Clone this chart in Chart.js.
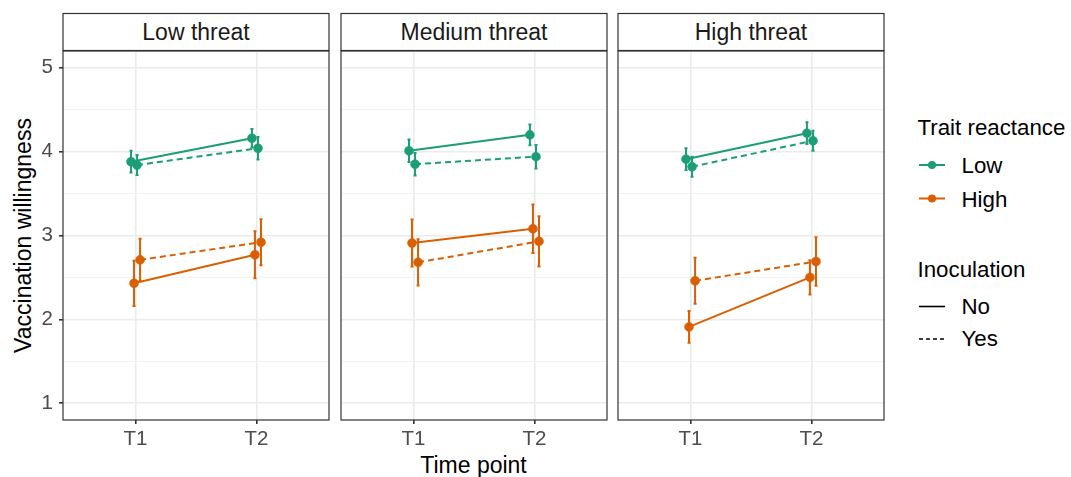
<!DOCTYPE html>
<html>
<head>
<meta charset="utf-8">
<script src="https://cdn.jsdelivr.net/npm/chart.js@4.4.1/dist/chart.umd.min.js"></script>
<style>
  html, body { margin: 0; padding: 0; background: #fff; }
  #wrap { position: relative; width: 1071px; height: 477px; overflow: hidden; }
  #overlay { position: absolute; left: 0; top: 0; font-family: "Liberation Sans", Arial, sans-serif; }
  canvas.panel { position: absolute; top: 50px; }
</style>
</head>
<body>
<div id="wrap">
  <svg id="overlay" width="1071" height="477"></svg>
  <canvas id="p0" class="panel"></canvas>
  <canvas id="p1" class="panel"></canvas>
  <canvas id="p2" class="panel"></canvas>
</div>
<script>
const timePoints = ['T1', 'T2'];
const threatLevels = ['Low threat', 'Medium threat', 'High threat'];
const yTicks = [1, 2, 3, 4, 5];

// mean willingness, one [T1, T2] pair per threat level
const lowNoMean   = [[3.88, 4.16], [4.01, 4.20], [3.91, 4.22]];
const lowNoErr    = [[0.13, 0.11], [0.135, 0.125], [0.13, 0.13]];
const lowYesMean  = [[3.84, 4.04], [3.85, 3.94], [3.82, 4.13]];
const lowYesErr   = [[0.12, 0.135], [0.135, 0.14], [0.12, 0.12]];
const highNoMean  = [[2.43, 2.77], [2.91, 3.08], [1.91, 2.50]];
const highNoErr   = [[0.27, 0.28], [0.28, 0.29], [0.19, 0.205]];
const highYesMean = [[2.71, 2.92], [2.68, 2.93], [2.46, 2.69]];
const highYesErr  = [[0.25, 0.275], [0.275, 0.30], [0.275, 0.29]];

const GREEN = '#1B9E77';
const ORANGE = '#D95F02';
const FONT = '"Liberation Sans", Arial, sans-serif';
const TITLE_SIZE = 23;
const LEGEND_SIZE = 22.3;
const TICK_SIZE = 20.5;
const dodge = 0.1; // position_dodge width

Chart.defaults.font.family = FONT;
Chart.defaults.font.size = TICK_SIZE;

const panelLeft = [63, 341, 618];
const panelWidth = 266;

// groups in dodge order
const groups = [
    { mean: lowNoMean,   err: lowNoErr,   color: GREEN,  dash: [] },
    { mean: highNoMean,  err: highNoErr,  color: ORANGE, dash: [] },
    { mean: lowYesMean,  err: lowYesErr,  color: GREEN,  dash: [6, 4] },
    { mean: highYesMean, err: highYesErr, color: ORANGE, dash: [6, 4] }
];

// minor grid lines between the labelled ticks
const yGrid = [];
yTicks.forEach((v, i) => {
    yGrid.push(v);
    if (i < yTicks.length - 1) yGrid.push((v + yTicks[i + 1]) / 2);
});

const errorBars = {
    id: 'errorBars',
    beforeDatasetsDraw(chart) {
        const { ctx, scales: { x, y } } = chart;
        chart.data.datasets.forEach(ds => {
            ctx.save();
            ctx.strokeStyle = ds.borderColor;
            ctx.lineWidth = 2;
            ds.data.forEach((p, k) => {
                const px = x.getPixelForValue(p.x);
                const top = y.getPixelForValue(p.y + ds.errors[k]);
                const bot = y.getPixelForValue(p.y - ds.errors[k]);
                ctx.beginPath();
                ctx.moveTo(px, top); ctx.lineTo(px, bot);
                ctx.moveTo(px - 1.5, top); ctx.lineTo(px + 1.5, top);
                ctx.moveTo(px - 1.5, bot); ctx.lineTo(px + 1.5, bot);
                ctx.stroke();
            });
            ctx.restore();
        });
    },
    afterDraw(chart) {
        const { ctx, chartArea: a } = chart;
        ctx.save();
        ctx.strokeStyle = '#333333';
        ctx.lineWidth = 1.2;
        ctx.strokeRect(a.left, a.top, a.right - a.left, a.bottom - a.top);
        ctx.restore();
    }
};

function noPadding(s) {
    s.paddingTop = 0;
    s.paddingBottom = 0;
    s.paddingLeft = 0;
    s.paddingRight = 0;
}

threatLevels.forEach((threat, i) => {
    const canvas = document.getElementById('p' + i);
    const left = i === 0 ? 0 : panelLeft[i] - 2;
    const width = panelLeft[i] + panelWidth + 2 - left;
    canvas.width = width;
    canvas.height = 400;
    canvas.style.left = left + 'px';

    const datasets = groups.map((g, j) => ({
        data: timePoints.map((t, k) => ({ x: k + 1 + (j - 1.5) * dodge / 4, y: g.mean[i][k] })),
        errors: g.err[i],
        borderColor: g.color,
        backgroundColor: g.color,
        pointBackgroundColor: g.color,
        pointBorderColor: g.color,
        borderDash: g.dash,
        borderWidth: 2,
        pointRadius: 4.5,
        pointBorderWidth: 0.5,
        tension: 0
    }));

    new Chart(canvas.getContext('2d'), {
        type: 'line',
        data: { datasets: datasets },
        plugins: [errorBars],
        options: {
            responsive: false,
            animation: false,
            layout: { autoPadding: false, padding: { left: i === 0 ? 0 : 2, right: 2, top: 1, bottom: 0 } },
            plugins: { legend: { display: false }, tooltip: { enabled: false } },
            scales: {
                x: {
                    type: 'linear',
                    min: 0.4,
                    max: 2.6,
                    afterBuildTicks: s => { s.ticks = timePoints.map((t, k) => ({ value: k + 1 })); },
                    afterFit: s => { s.height = 30; noPadding(s); },
                    border: { display: false },
                    grid: { color: '#EBEBEB', lineWidth: 1.6, tickColor: '#333333', tickLength: 4 },
                    ticks: {
                        autoSkip: false,
                        maxRotation: 0,
                        padding: 3,
                        color: '#4D4D4D',
                        font: { family: FONT, size: TICK_SIZE },
                        callback: v => timePoints[v - 1]
                    }
                },
                y: {
                    min: 0.8,
                    max: 5.2,
                    afterBuildTicks: s => { s.ticks = yGrid.map(v => ({ value: v })); },
                    afterFit: s => { s.width = i === 0 ? 63 : 0; noPadding(s); },
                    border: { display: false },
                    grid: {
                        drawTicks: i === 0,
                        tickLength: 4,
                        color: c => Number.isInteger(c.tick.value) ? '#EBEBEB' : '#F2F2F2',
                        lineWidth: c => Number.isInteger(c.tick.value) ? 1.6 : 1,
                        tickColor: c => Number.isInteger(c.tick.value) ? '#333333' : 'rgba(0,0,0,0)'
                    },
                    ticks: {
                        display: i === 0,
                        autoSkip: false,
                        padding: 6,
                        color: '#4D4D4D',
                        font: { family: FONT, size: TICK_SIZE },
                        callback: v => Number.isInteger(v) ? v : ''
                    }
                }
            }
        }
    });
});

// strips, axis titles and legend as svg text
const svg = document.getElementById('overlay');
function add(tag, attrs, text) {
    const el = document.createElementNS('http://www.w3.org/2000/svg', tag);
    Object.keys(attrs).forEach(k => el.setAttribute(k, attrs[k]));
    if (text) el.textContent = text;
    svg.appendChild(el);
    return el;
}

threatLevels.forEach((threat, i) => {
    add('rect', { x: panelLeft[i], y: 13.5, width: panelWidth, height: 37, fill: '#fff', stroke: '#333333', 'stroke-width': 1.2 });
    add('text', { x: panelLeft[i] + panelWidth / 2, y: 40, 'text-anchor': 'middle', 'font-size': TITLE_SIZE, fill: '#1A1A1A' }, threat);
});

add('text', { x: 0, y: 0, transform: 'translate(31,235.5) rotate(-90)', 'text-anchor': 'middle', 'font-size': TITLE_SIZE, fill: '#000' }, 'Vaccination willingness');
add('text', { x: 473.5, y: 473, 'text-anchor': 'middle', 'font-size': TITLE_SIZE, fill: '#000' }, 'Time point');

add('text', { x: 917.5, y: 135, 'font-size': LEGEND_SIZE, fill: '#000' }, 'Trait reactance');
[['Low', GREEN, 165], ['High', ORANGE, 198.5]].forEach(([lab, col, y]) => {
    add('line', { x1: 919, x2: 945, y1: y, y2: y, stroke: col, 'stroke-width': 2 });
    add('circle', { cx: 932, cy: y, r: 4, fill: col });
    add('text', { x: 961.5, y: y + 8, 'font-size': LEGEND_SIZE, fill: '#000' }, lab);
});
add('text', { x: 917.5, y: 277, 'font-size': LEGEND_SIZE, fill: '#000' }, 'Inoculation');
[['No', '', 306.5], ['Yes', '4 3', 339]].forEach(([lab, dash, y]) => {
    const l = add('line', { x1: 919, x2: 945, y1: y, y2: y, stroke: '#000', 'stroke-width': 1.6 });
    if (dash) l.setAttribute('stroke-dasharray', dash);
    add('text', { x: 961.5, y: y + 7, 'font-size': LEGEND_SIZE, fill: '#000' }, lab);
});
</script>
</body>
</html>
